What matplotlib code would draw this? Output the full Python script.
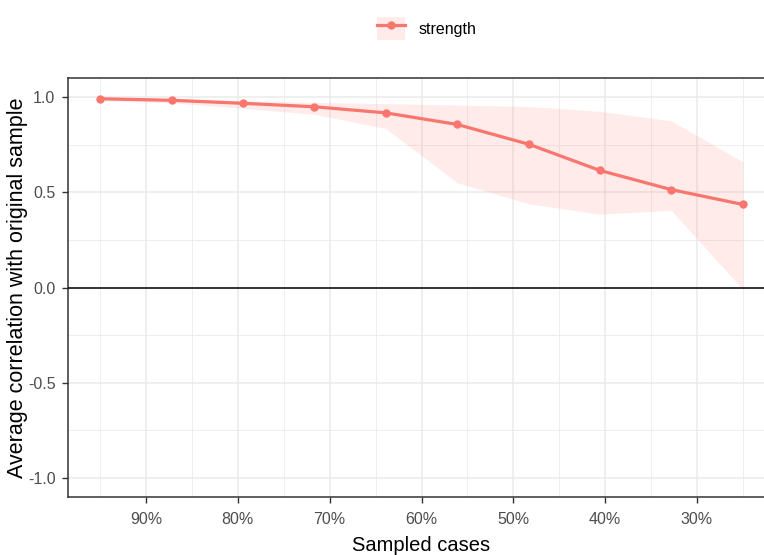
import matplotlib
matplotlib.use("Agg")
import matplotlib.pyplot as plt
from matplotlib.patches import Patch
from matplotlib.lines import Line2D
from matplotlib.legend_handler import HandlerTuple
from matplotlib.ticker import FixedLocator, FuncFormatter

# case-dropping stability: sampled proportion of cases vs correlation
sampled = [95.0, 87.2, 79.4, 71.7, 63.9, 56.1, 48.3, 40.6, 32.8, 25.0]
mean_cor = [0.991, 0.983, 0.967, 0.949, 0.917, 0.856, 0.752, 0.615, 0.514, 0.436]
upper = [1.0, 0.992, 0.982, 0.972, 0.965, 0.958, 0.95, 0.925, 0.875, 0.66]
lower = [0.98, 0.97, 0.94, 0.91, 0.835, 0.55, 0.44, 0.385, 0.405, -0.01]
series = "strength"

col = "#F8766D"
plt.rcParams["font.family"] = ["Liberation Sans", "DejaVu Sans"]

fig = plt.figure(figsize=(7.64, 5.55), dpi=100)
ax = fig.add_axes([68 / 764, 1 - 497 / 555, 707 / 764, 419 / 555])

ax.fill_between(sampled, lower, upper, color=col, alpha=0.14, linewidth=0, zorder=2)
ax.plot(sampled, mean_cor, color=col, lw=2.3, marker="o", ms=5, zorder=4)
ax.axhline(0, color="black", lw=1.1, zorder=3)

ax.set_xlim(98.5, 21.5)
ax.set_ylim(-1.1, 1.1)

ax.xaxis.set_major_locator(FixedLocator([90, 80, 70, 60, 50, 40, 30]))
ax.xaxis.set_minor_locator(FixedLocator([95, 85, 75, 65, 55, 45, 35, 25]))
ax.xaxis.set_major_formatter(FuncFormatter(lambda v, p: "%d%%" % v))
ax.yaxis.set_major_locator(FixedLocator([-1, -0.5, 0, 0.5, 1]))
ax.yaxis.set_minor_locator(FixedLocator([-0.75, -0.25, 0.25, 0.75]))
ax.yaxis.set_major_formatter(FuncFormatter(lambda v, p: "%.1f" % v))

ax.grid(which="major", color="#EBEBEB", lw=1.1, zorder=0)
ax.grid(which="minor", color="#EBEBEB", lw=0.6, zorder=0)
ax.set_axisbelow(True)
for s in ax.spines.values():
    s.set_color("#333333")
    s.set_linewidth(1.1)

ax.tick_params(which="major", length=4, width=1, color="#333333",
               labelcolor="#4D4D4D", labelsize=11.5, pad=7)
ax.tick_params(axis="y", pad=5)
ax.tick_params(which="minor", length=0)

ax.set_xlabel("Sampled cases", fontsize=14.5, labelpad=6)
ax.set_ylabel("Average correlation with original sample", fontsize=15.5)
ax.yaxis.set_label_coords(-0.056, 0.5)

handle = (Patch(facecolor=col, alpha=0.14, edgecolor="none"),
          Line2D([], [], color=col, lw=2.3, marker="o", ms=5))
fig.legend([handle], [series], loc="upper center", bbox_to_anchor=(0.558, 0.995),
           frameon=False, handler_map={tuple: HandlerTuple(ndivide=1, pad=0)},
           handlelength=1.8, handleheight=1.8, handletextpad=0.8,
           prop={"size": 11.5})

fig.savefig("out.png", dpi=100)
